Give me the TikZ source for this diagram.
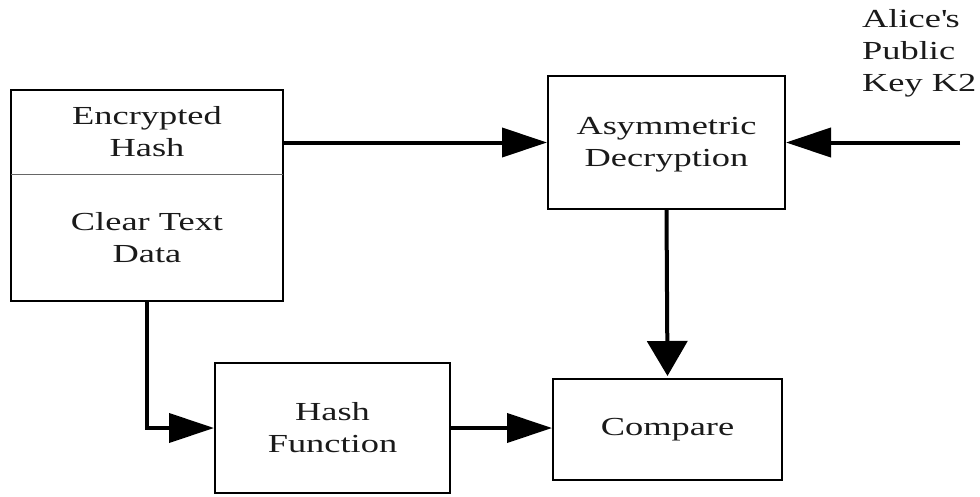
\documentclass[tikz,border=0pt]{standalone}
\usepackage{fontspec}
\setmainfont{Liberation Serif}[FakeStretch=1.4]
\usetikzlibrary{arrows.meta}
\definecolor{ink}{HTML}{1A1A1A}
\begin{document}
\begin{tikzpicture}[x=1pt,y=-1pt,
  box/.style={draw=black,line width=2pt,inner sep=0pt,
    minimum width=#1},
  label/.style={text=ink,align=center,inner sep=0pt,
    font=\fontsize{26}{32}\selectfont},
  flow/.style={line width=4pt,-{Triangle[length=45pt 0,width=29pt 0]}},
  drop/.style={line width=4pt,-{Triangle[length=35pt 0,width=40pt 0]}}]
\useasboundingbox (0,0) rectangle (980,496);

% message block: encrypted hash over clear text data
\node[box=272pt,minimum height=211pt] (src) at (147,195.5) {};
\node[label,minimum width=272pt,minimum height=84pt] (enc) at (147,132) {Encrypted\\Hash};
\node[label,minimum width=272pt,minimum height=127pt] (clear) at (147,237.5) {Clear Text\\Data};
\draw[line width=1pt,black!60] (enc.south west) -- (enc.south east);

% processing blocks
\node[box=237pt,minimum height=133pt] (ad) at (666.5,142.5) {};
\node[label] (adtext) at (666.5,145) {Asymmetric\\Decryption};
\node[box=235pt,minimum height=130pt,label] (hash) at (332.5,428) {Hash\\Function};
\node[box=229pt,minimum height=101pt,label] (cmp) at (667.5,429.5) {Compare};

% public key input
\node[label,align=left,anchor=north west] (key) at (862,9) {Alice\textquotesingle s\\Public\\Key K2};
\coordinate (keyin) at (960,142.5);

% connectors
\draw[flow] (ad.west -| src.east) -- (ad.west);
\draw[flow] (keyin) -- (ad.east);
\draw[drop] (ad.south) -- ([yshift=2pt]cmp.north);
\draw[flow] (src.south) |- (hash.west);
\draw[flow] (hash.east) -- (hash.east -| cmp.west);
\end{tikzpicture}
\end{document}
